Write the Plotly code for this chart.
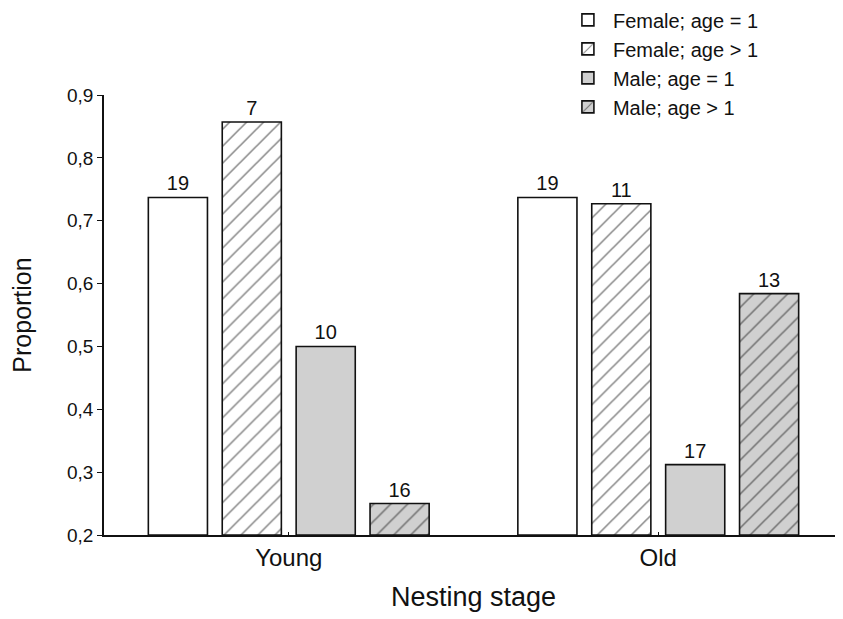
import plotly.graph_objects as go

categories = ["Young", "Old"]
series_names = ["Female; age = 1", "Female; age > 1", "Male; age = 1", "Male; age > 1"]
female_age1 = [0.737, 0.737]
female_age_gt1 = [0.857, 0.727]
male_age1 = [0.50, 0.312]
male_age_gt1 = [0.25, 0.584]
n_female_age1 = ["19", "19"]
n_female_age_gt1 = ["7", "11"]
n_male_age1 = ["10", "17"]
n_male_age_gt1 = ["16", "13"]
y_ticks = [0.2, 0.3, 0.4, 0.5, 0.6, 0.7, 0.8, 0.9]
y_ticklabels = ["0,2", "0,3", "0,4", "0,5", "0,6", "0,7", "0,8", "0,9"]

values = [female_age1, female_age_gt1, male_age1, male_age_gt1]
counts = [n_female_age1, n_female_age_gt1, n_male_age1, n_male_age_gt1]
bgcolors = ["white", "white", "#d0d0d0", "#d0d0d0"]
shapes = ["", "/", "", "/"]

FONT = "Liberation Sans, Arial, Helvetica"

fig = go.Figure()
for i, (name, v, c, bg, sh) in enumerate(zip(series_names, values, counts, bgcolors, shapes)):
    base = [0.2] * len(v)
    fig.add_trace(go.Bar(
        x=categories, y=[a - 0.2 for a in v], base=base, name=name,
        legendgroup=f"g{i}",
        text=c, textposition="outside", cliponaxis=False,
        textfont=dict(size=20, color="#111", family=FONT),
        marker=dict(color=bg, line=dict(color="#111", width=1.6),
                    pattern=dict(shape=sh, fgcolor="#111", bgcolor=bg, size=12, solidity=0.13)),
    ))

# page body has an 8px margin, so the figure is 8px smaller in each direction
fig.update_layout(
    width=835, height=611,
    margin=dict(l=96, r=0, t=87, b=84, autoexpand=False),
    paper_bgcolor="white", plot_bgcolor="white",
    barmode="group", bargap=0.2, bargroupgap=0.2,
    font=dict(family=FONT, color="#111"),
    showlegend=True,
    legend=dict(x=0.621, y=1.215, xanchor="left", yanchor="top",
                font=dict(size=20), bgcolor="rgba(0,0,0,0)",
                tracegroupgap=0, itemwidth=40),
    xaxis=dict(showline=True, linecolor="#111", linewidth=1.6, automargin=False,
               ticks="inside", ticklen=3, tickcolor="#111",
               tickfont=dict(size=24), range=[-0.5, 1.5],
               title=dict(text="Nesting stage", font=dict(size=27), standoff=18)),
    yaxis=dict(showline=True, linecolor="#111", linewidth=1.6, range=[0.2, 0.9], automargin=False,
               tickvals=y_ticks, ticktext=y_ticklabels, ticks="outside", ticklen=5,
               tickcolor="#111", tickfont=dict(size=19), showgrid=False, zeroline=False,
               title=dict(text="Proportion", font=dict(size=25), standoff=28)),
)

fig.write_html("out.html")
